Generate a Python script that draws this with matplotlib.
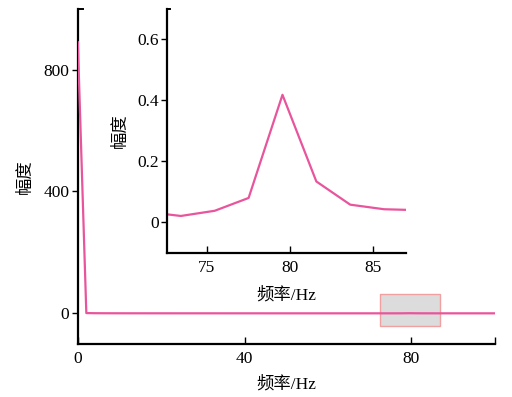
import matplotlib
matplotlib.use("Agg")
import matplotlib.pyplot as plt
from matplotlib.patches import Rectangle

plt.rcParams['font.family'] = ['Liberation Serif', 'Noto Sans CJK SC']
plt.rcParams['axes.unicode_minus'] = False

# Amplitude spectrum (Hz, amplitude)
freq_hz = [0.0, 2.04, 4.08, 6.12, 8.16, 10.2, 12.24, 14.28, 16.32, 18.36,
           20.4, 22.44, 24.48, 26.52, 28.56, 30.6, 32.64, 34.68, 36.72, 38.76,
           40.8, 42.84, 44.88, 46.92, 48.96, 51.0, 53.04, 55.08, 57.12, 59.16,
           61.2, 63.24, 65.28, 67.32, 69.36, 71.4, 73.44, 75.48, 77.52, 79.56,
           81.6, 83.64, 85.68, 87.72, 89.76, 91.8, 93.84, 95.88, 97.92, 99.96]
amplitude = [890.0, 0.9, 0.45, 0.3, 0.22, 0.18, 0.15, 0.13, 0.11, 0.1,
             0.09, 0.08, 0.075, 0.07, 0.065, 0.06, 0.056, 0.053, 0.05, 0.048,
             0.046, 0.044, 0.042, 0.041, 0.04, 0.039, 0.038, 0.037, 0.036, 0.035,
             0.035, 0.034, 0.034, 0.034, 0.034, 0.034, 0.021, 0.038, 0.080, 0.418,
             0.134, 0.058, 0.043, 0.040, 0.038, 0.036, 0.035, 0.034, 0.033, 0.033]

main_xticks = [0, 40, 80, 100]
main_xticklabels = ['0', '40', '80', '']
main_yticks = [0, 400, 800]
inset_xticks = [75, 80, 85]
inset_yticks = [0, 0.2, 0.4, 0.6]
inset_yticklabels = ['0', '0.2', '0.4', '0.6']
zoom_x = (72.6, 87.0)
zoom_box_y = (-40, 65)

line_color = '#e8559c'
fs = 12.5

fig = plt.figure(figsize=(5.12, 3.97), dpi=100)


def style_axes(ax):
    for s in ('top', 'right'):
        ax.spines[s].set_visible(False)
    for s in ('left', 'bottom'):
        ax.spines[s].set_linewidth(1.6)
    ax.tick_params(axis='x', direction='in', length=5, width=1.0, labelsize=fs, pad=5)
    ax.tick_params(axis='y', direction='out', length=4, width=1.0, labelsize=fs, pad=2)
    ax.plot([0, 0.012], [1, 1], transform=ax.transAxes, color='black',
            lw=1.4, clip_on=False)


# Main spectrum
ax = fig.add_axes([0.152, 0.134, 0.814, 0.844])
ax.plot(freq_hz, amplitude, color=line_color, lw=1.6, zorder=3)
ax.set_xlim(0, 100)
ax.set_ylim(-100, 1000)
ax.set_xticks(main_xticks)
ax.set_xticklabels(main_xticklabels)
ax.set_yticks(main_yticks)
style_axes(ax)
ax.set_xlabel('频率/Hz', fontsize=fs, labelpad=7)
ax.set_ylabel('幅度', fontsize=fs, labelpad=7)
ax.add_patch(Rectangle((zoom_x[0], zoom_box_y[0]), zoom_x[1] - zoom_x[0],
                       zoom_box_y[1] - zoom_box_y[0], facecolor='#dcdcdc',
                       edgecolor='#f0a0a0', lw=1.0, zorder=2))

# Zoomed inset around the peak
axi = fig.add_axes([0.326, 0.363, 0.467, 0.615])
axi.plot(freq_hz, amplitude, color=line_color, lw=1.6)
axi.set_xlim(*zoom_x)
axi.set_ylim(-0.1, 0.7)
axi.set_xticks(inset_xticks)
axi.set_yticks(inset_yticks)
axi.set_yticklabels(inset_yticklabels)
style_axes(axi)
axi.set_xlabel('频率/Hz', fontsize=fs, labelpad=8)
axi.set_ylabel('幅度', fontsize=fs, labelpad=6)
axi.patch.set_alpha(0)

fig.savefig('out.png', dpi=100)
